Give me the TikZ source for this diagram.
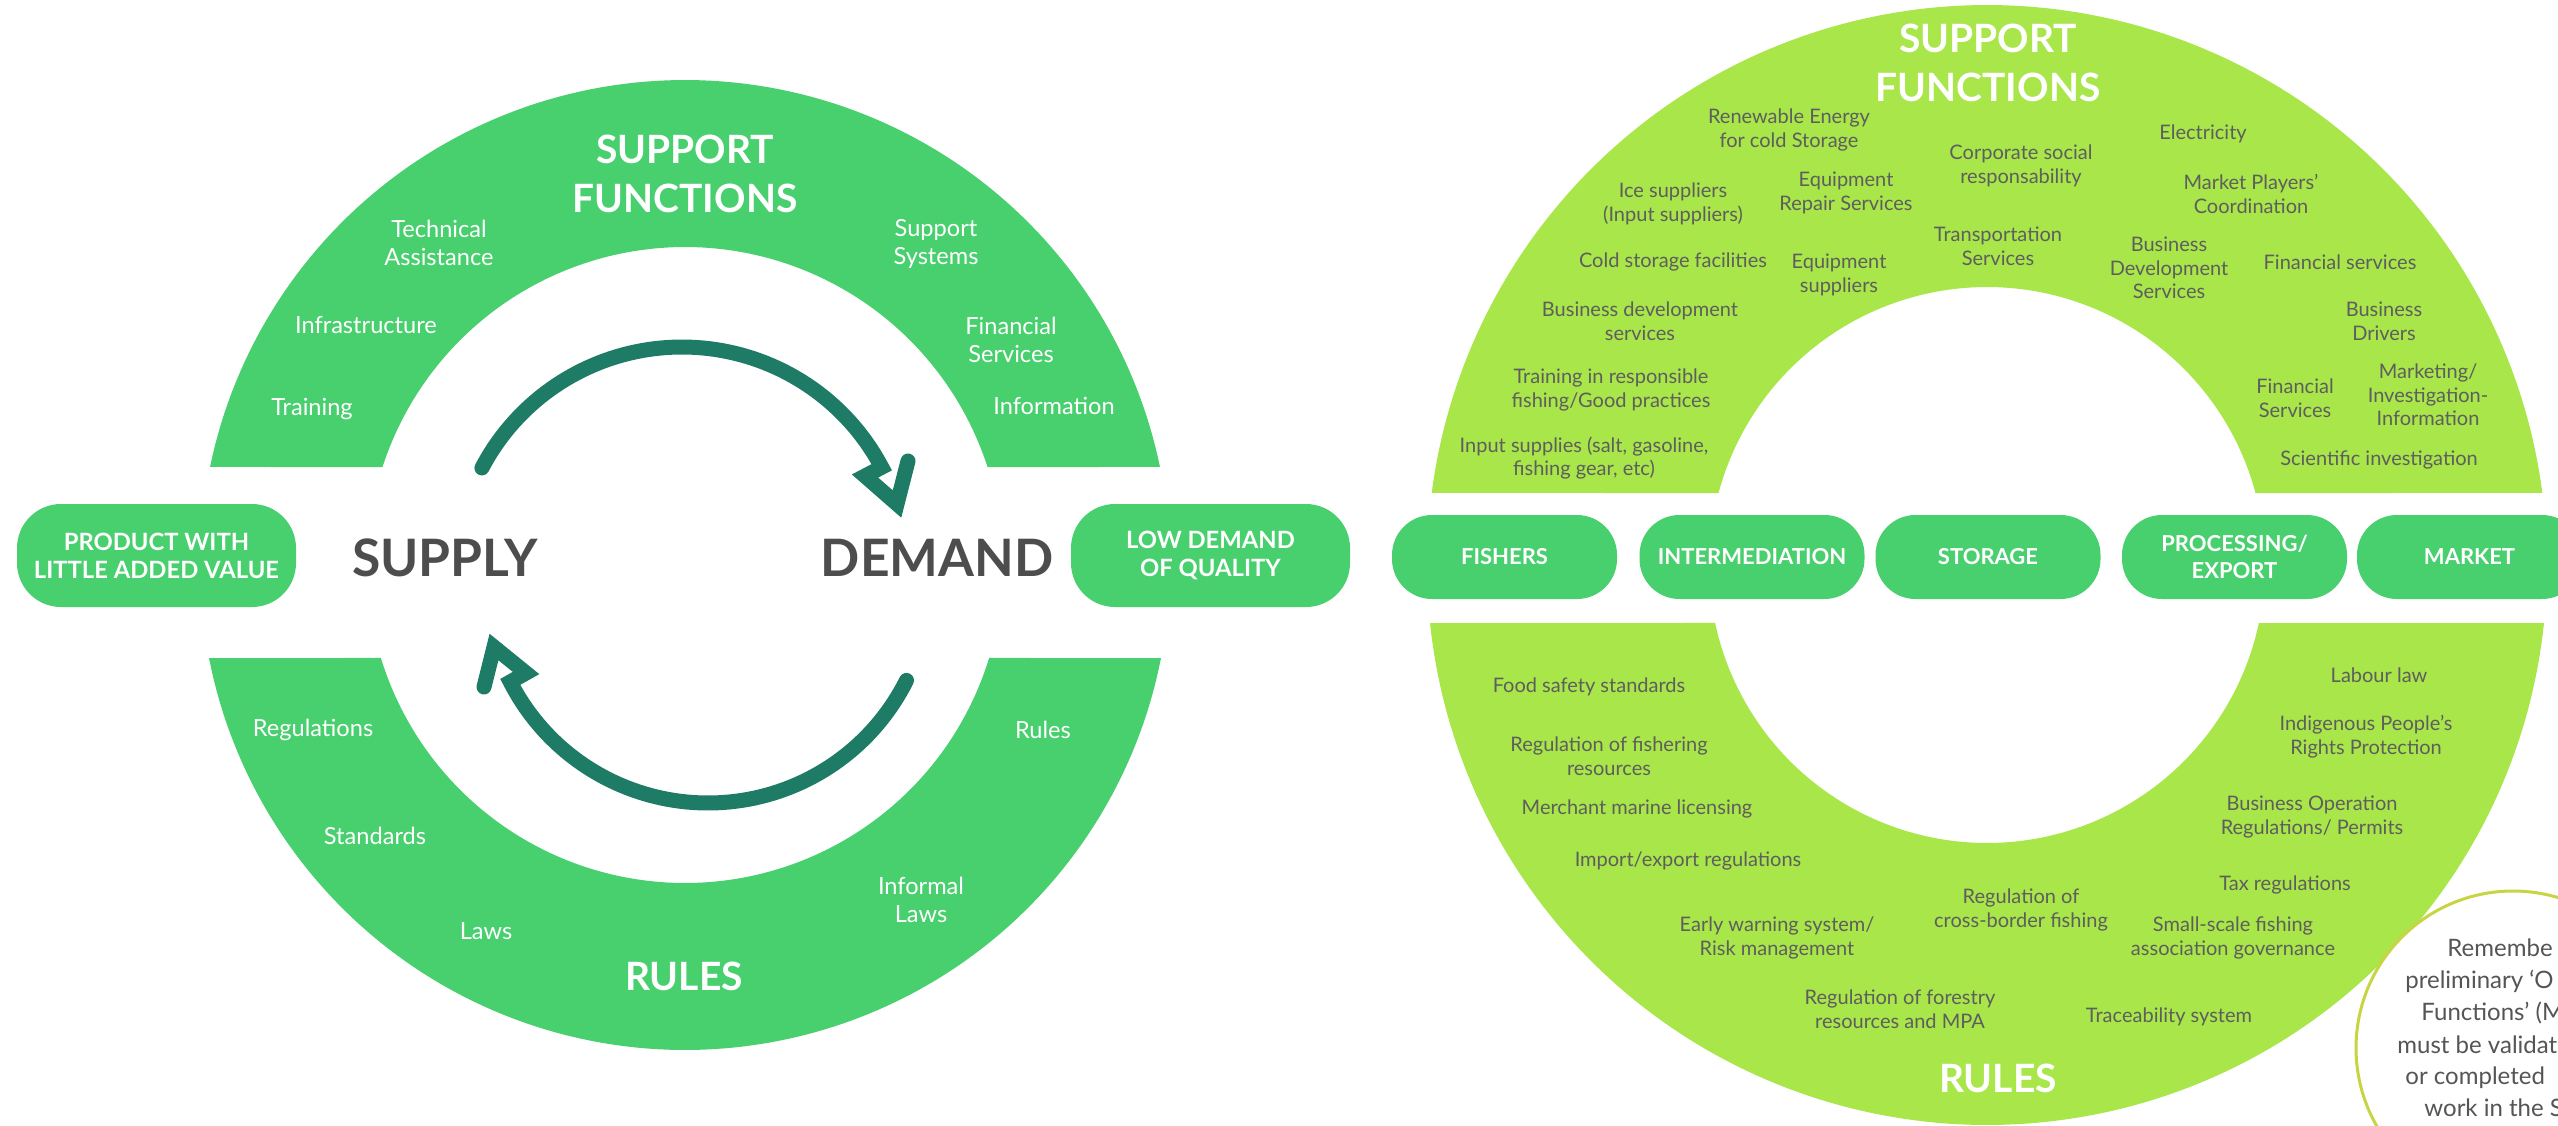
\documentclass[tikz,border=0pt]{standalone}
\usepackage{fontspec}
\setmainfont{Lato}
\definecolor{ringA}{HTML}{48CF6E}
\definecolor{ringB}{HTML}{A8E64A}
\definecolor{arrowc}{HTML}{1E7C66}
\definecolor{greytxt}{HTML}{5E5E5E}
\definecolor{notetxt}{HTML}{555555}
\definecolor{darktxt}{HTML}{4D4D4D}
\definecolor{notec}{HTML}{C9D444}
\begin{document}
\begin{tikzpicture}[x=0.5pt,y=-0.5pt,
  wlab/.style={text=white,font=\fontsize{11.8}{14}\selectfont,align=center,inner sep=0pt},
  glab/.style={text=greytxt,font=\fontsize{10}{11.85}\selectfont,align=center,inner sep=0pt},
  bigw/.style={text=white,font=\bfseries\fontsize{19.5}{24.5}\selectfont,align=center,inner sep=0pt},
  sdlab/.style={text=darktxt,font=\bfseries\fontsize{25.8}{30}\selectfont,inner sep=0pt},
  lbox/.style={fill=ringA,rounded corners=22pt,minimum width=139.5pt,minimum height=51.5pt,text=white,font=\bfseries\fontsize{11.9}{14}\selectfont,align=center,inner sep=0pt},
  pbox/.style={fill=ringA,rounded corners=20pt,minimum width=112.5pt,minimum height=42pt,text=white,font=\bfseries\fontsize{11}{13.4}\selectfont,align=center,inner sep=0pt},
  cyc/.style={draw=arrowc,line width=7.5pt,line cap=round,line join=miter},
  notet/.style={text=notetxt,font=\fontsize{12}{16}\selectfont,anchor=base west,inner sep=0pt}]
\useasboundingbox (0,0) rectangle (2558,1125);

% ---------- left ring ----------
\fill[ringA] plot[domain=-168.34:-11.66,samples=120] ({685+485*cos(\x)},{565+485*sin(\x)})
  -- plot[domain=-162.05:-17.95,samples=120] ({685-318*cos(\x)},{565+318*sin(\x)}) -- cycle;
\fill[ringA] plot[domain=11.06:168.94,samples=120] ({685+485*cos(\x)},{565+485*sin(\x)})
  -- plot[domain=17:163,samples=120] ({685-318*cos(\x)},{565+318*sin(\x)}) -- cycle;

% ---------- right ring ----------
\fill[ringB] plot[domain=-172.61:-7.39,samples=150] ({1987+560*cos(\x)},{565+560*sin(\x)})
  -- plot[domain=-164.99:-15.01,samples=120] ({1987-278*cos(\x)},{565+278*sin(\x)}) -- cycle;
\fill[ringB] plot[domain=5.945:174.055,samples=150] ({1987+560*cos(\x)},{565+560*sin(\x)})
  -- plot[domain=12.04:167.96,samples=120] ({1987-278*cos(\x)},{565+278*sin(\x)}) -- cycle;

% ---------- cycle arrows ----------
\draw[cyc] plot[domain=-152.3:-27.9,samples=80] ({682+226*cos(\x)},{573+226*sin(\x)})
  -- (865,476) -- (897,504) -- (908,461);
\draw[cyc] plot[domain=26.6:152.97,samples=80] ({708+222*cos(\x)},{581+222*sin(\x)})
  -- (526,673) -- (494,647) -- (484,687);

% ---------- left texts ----------
\node[lbox] (prod) at (156.5,555.5) {PRODUCT WITH\\LITTLE ADDED VALUE};
\node[lbox] (lowd) at (1210.5,555.5) {LOW DEMAND\\OF QUALITY};
\node[sdlab] (supply) at (445,558) {SUPPLY};
\node[sdlab] (demand) at (937,558) {DEMAND};
\node[bigw] (sfL) at (685,173.5) {SUPPORT\\FUNCTIONS};
\node[bigw] (rulesL) at (684,976) {RULES};
\node[wlab] (l1) at (439,243) {Technical\\Assistance};
\node[wlab] (l2) at (366,325) {Infrastructure};
\node[wlab] (l3) at (312,409) {Training};
\node[wlab] (l4) at (936,244) {Support\\Systems};
\node[wlab] (l5) at (1011,340) {Financial\\Services};
\node[wlab] (l6) at (1054,406) {Information};
\node[wlab] (l7) at (313,730) {Regulations};
\node[wlab] (l8) at (375,836) {Standards};
\node[wlab] (l9) at (486,931) {Laws};
\node[wlab] (l10) at (921,900) {Informal\\Laws};
\node[wlab] (l11) at (1043,730) {Rules};

% ---------- right: top labels ----------
\node[bigw] (sfR) at (1988,62.5) {SUPPORT\\FUNCTIONS};
\node[glab] (r1) at (1789,130) {Renewable Energy\\for cold Storage};
\node[glab] (r2) at (2021,166) {Corporate social\\responsability};
\node[glab] (r3) at (2203,134) {Electricity};
\node[glab] (r4) at (1673,204) {Ice suppliers\\(Input suppliers)};
\node[glab] (r5) at (1846,193) {Equipment\\Repair Services};
\node[glab] (r6) at (2251,194) {Market Players’\\Coordination};
\node[glab] (r7) at (1998,246) {Transportation\\Services};
\node[glab] (r8) at (2169,268) {Business\\Development\\Services};
\node[glab] (r9) at (1673,262) {Cold storage facilities};
\node[glab] (r10) at (1839,275) {Equipment\\suppliers};
\node[glab] (r11) at (2340,262) {Financial services};
\node[glab] (r12) at (1640,321) {Business development\\services};
\node[glab] (r13) at (2384,321) {Business\\Drivers};
\node[glab] (r14) at (1611,390) {Training in responsible\\fishing/Good practices};
\node[glab] (r15) at (2428,395) {Marketing/\\Investigation-\\Information};
\node[glab] (r16) at (2295,398) {Financial\\Services};
\node[glab] (r17) at (1584,458) {Input supplies (salt, gasoline,\\fishing gear, etc)};
\node[glab] (r18) at (2379,460) {Scientific investigation};

% ---------- right: chain ----------
\node[pbox] (fishers) at (1504.5,557) {FISHERS};
\node[pbox] (interm) at (1752,557) {INTERMEDIATION};
\node[pbox] (storage) at (1988,557) {STORAGE};
\node[pbox] (proc) at (2234.5,557) {PROCESSING/\\EXPORT};
\node[pbox] (market) at (2469.5,557) {MARKET};

% ---------- right: bottom labels ----------
\node[glab] (b1) at (1589,687) {Food safety standards};
\node[glab] (b2) at (1609,756) {Regulation of fishering\\resources};
\node[glab] (b3) at (1637,809) {Merchant marine licensing};
\node[glab] (b4) at (1688,861) {Import/export regulations};
\node[glab] (b5) at (1777,938) {Early warning system/\\Risk management};
\node[glab] (b6) at (2021,910) {Regulation of\\cross-border fishing};
\node[glab] (b7) at (2233,938) {Small-scale fishing\\association governance};
\node[glab] (b8) at (1900,1009) {Regulation of forestry\\resources and MPA};
\node[glab] (b9) at (2169,1017) {Traceability system};
\node[bigw] (rulesR) at (1998,1078) {RULES};
\node[glab] (b10) at (2379,675) {Labour law};
\node[glab] (b11) at (2366,737) {Indigenous People’s\\Rights Protection};
\node[glab] (b12) at (2312,817) {Business Operation\\Regulations/ Permits};
\node[glab] (b13) at (2285,885) {Tax regulations};

% ---------- note ----------
\draw[notec,line width=1.5pt,fill=white] (2513,1048) circle[radius=157];
\node[notet] (n1) at (2447,956) {Remembe};
\node[notet] (n2) at (2405,988) {preliminary ‘O};
\node[notet] (n3) at (2421,1020) {Functions’ (M};
\node[notet] (n4) at (2397,1053) {must be validat};
\node[notet] (n5) at (2405,1084) {or completed};
\node[notet] (n6) at (2424,1116) {work in the S};
\end{tikzpicture}
\end{document}
